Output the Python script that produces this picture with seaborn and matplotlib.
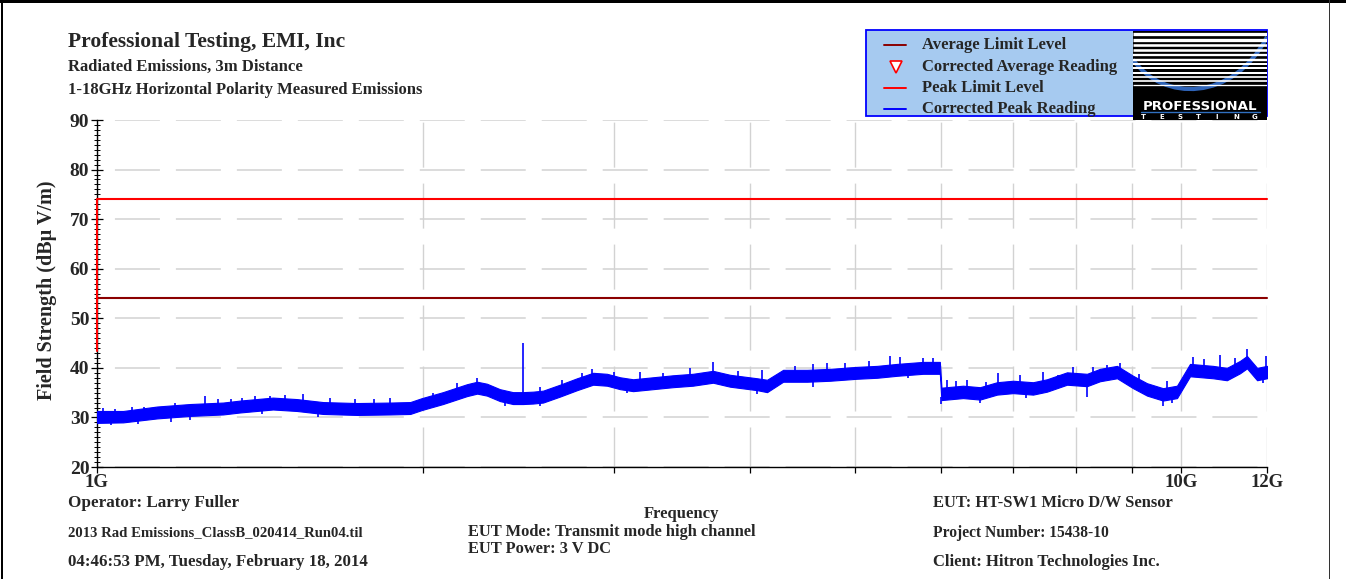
import numpy as np
import pandas as pd
import matplotlib
matplotlib.use("Agg")
import matplotlib.pyplot as plt
from matplotlib.lines import Line2D
from matplotlib.patches import Rectangle, PathPatch
from matplotlib.path import Path
from matplotlib.ticker import FixedLocator, FixedFormatter, MultipleLocator, NullLocator
import seaborn as sns

# ---------------- data ----------------
# Corrected peak reading: lower / upper envelope of the swept trace (GHz, dBuV/m)
peak_freq_ghz = [1.000, 1.057, 1.136, 1.218, 1.307, 1.355, 1.453, 1.529, 1.616, 1.737,
                 1.864, 1.945, 1.994, 2.085, 2.194, 2.242, 2.289, 2.353, 2.419, 2.471,
                 2.525, 2.579, 2.673, 2.772, 2.868, 2.954, 3.037, 3.122, 3.257, 3.398,
                 3.545, 3.700, 3.836, 4.063, 4.150, 4.294, 4.518, 4.745, 5.024, 5.243,
                 5.470, 5.780, 5.990, 6.010, 6.292, 6.523, 6.763, 6.997, 7.301, 7.521,
                 7.847, 8.187, 8.417, 8.727, 9.029, 9.301, 9.622, 9.912, 10.19, 10.70,
                 11.02, 11.33, 11.50, 11.75, 12.00]
peak_lo = [28.9, 29.0, 29.8, 30.3, 30.6, 31.0, 31.6, 31.3, 30.7, 30.5,
           30.6, 30.7, 31.5, 32.7, 34.3, 34.8, 34.4, 33.3, 32.7, 32.7,
           32.8, 33.0, 34.2, 35.5, 36.6, 36.4, 35.7, 35.3, 35.7, 36.1,
           36.4, 37.0, 36.2, 35.5, 35.1, 37.2, 37.2, 37.4, 37.8, 38.0,
           38.4, 38.8, 38.8, 33.5, 33.9, 33.6, 34.6, 34.9, 34.6, 35.2,
           36.6, 36.3, 37.3, 37.9, 35.9, 34.4, 33.4, 33.9, 38.3, 37.9,
           37.5, 38.9, 39.9, 37.5, 37.9]
peak_hi = [31.3, 31.3, 32.2, 32.7, 33.0, 33.4, 34.0, 33.7, 33.1, 32.9,
           33.0, 33.1, 33.9, 35.1, 36.7, 37.2, 36.8, 35.7, 35.1, 35.1,
           35.2, 35.4, 36.6, 37.9, 39.0, 38.8, 38.1, 37.7, 38.1, 38.5,
           38.8, 39.4, 38.6, 37.9, 37.6, 39.6, 39.6, 39.8, 40.2, 40.4,
           40.8, 41.2, 41.2, 36.0, 36.4, 36.1, 37.1, 37.4, 37.1, 37.7,
           39.1, 38.8, 39.8, 40.4, 38.4, 36.9, 35.9, 36.4, 40.8, 40.4,
           40.0, 41.4, 42.4, 40.0, 40.4]

# Isolated peaks standing above the trace
spike_freq_ghz = [1.013, 1.040, 1.077, 1.105, 1.131, 1.180, 1.258, 1.293, 1.330, 1.360,
                  1.400, 1.444, 1.490, 1.549, 1.640, 1.729, 1.800, 1.864, 2.040, 2.150,
                  2.242, 2.471, 2.560, 2.685, 2.800, 2.862, 3.000, 3.169, 3.330, 3.523,
                  3.700, 3.900, 4.106, 4.400, 4.575, 4.714, 4.900, 5.150, 5.390, 5.506,
                  5.780, 5.900, 6.082, 6.200, 6.346, 6.600, 6.777, 7.100, 7.457, 7.700,
                  7.948, 8.292, 8.550, 8.783, 9.150, 9.700, 10.25, 10.50, 10.86, 11.20,
                  11.50, 11.98]
spike_top = [31.9, 31.8, 32.2, 32.1, 32.2, 32.9, 34.3, 33.7, 33.8, 34.0,
             34.3, 34.4, 34.5, 34.7, 33.9, 33.7, 33.8, 33.9, 35.0, 37.0,
             37.9, 45.0, 36.2, 37.6, 39.0, 39.8, 39.2, 39.2, 39.0, 40.0,
             41.2, 39.3, 39.6, 40.4, 40.8, 40.9, 41.0, 41.3, 42.4, 42.2,
             41.9, 42.0, 37.5, 37.4, 37.5, 37.2, 38.9, 38.5, 39.2, 38.6,
             40.2, 40.2, 40.6, 41.0, 38.8, 37.4, 42.2, 41.8, 42.6, 41.9,
             43.8, 42.4]

# Dips reaching below the trace
dip_freq_ghz = [1.030, 1.090, 1.170, 1.218, 1.420, 1.600, 2.380, 2.560, 3.080, 4.063,
                4.575, 5.600, 6.010, 6.523, 7.200, 8.187, 9.620, 9.800, 11.90]
dip_bottom = [28.5, 28.6, 29.0, 29.5, 30.6, 30.0, 32.3, 32.4, 35.0, 34.7,
              36.1, 38.0, 32.7, 33.0, 34.0, 34.1, 32.4, 33.0, 36.9]

# Limit lines
avg_limit_freq = [1.0, 12.0]
avg_limit_level = [54.0, 54.0]
peak_limit_freq = [1.0, 1.0, 12.0]
peak_limit_level = [43.5, 74.0, 74.0]

# Axis ticks
y_ticks = [20, 30, 40, 50, 60, 70, 80, 90]
x_ticks = [1, 2, 3, 4, 5, 6, 7, 8, 9, 10, 12]
x_tick_labels = ["1G", "", "", "", "", "", "", "", "", "10G", "12G"]

legend_labels = ["Average Limit Level", "Corrected Average Reading",
                 "Peak Limit Level", "Corrected Peak Reading"]

# ---------------- style ----------------
sns.set_style("white")
plt.rcParams["font.family"] = ["Liberation Serif", "DejaVu Serif"]
plt.rcParams["font.weight"] = "bold"
plt.rcParams["lines.scale_dashes"] = False

W, H = 1346, 579
fig = plt.figure(figsize=(W / 100, H / 100), dpi=100)
fig.patch.set_facecolor("white")


def fx(x):
    return x / W


def fy(y):
    return 1 - y / H


ax = fig.add_axes([fx(97), fy(467), 1170 / W, 347 / H])
ax.set_facecolor("white")
ax.set_xscale("log")
ax.set_xlim(1, 12)
ax.set_ylim(20, 90)

AVG_COLOR = "#8B0000"
PEAK_COLOR = "#FF0000"
TRACE_COLOR = "#0000FF"

# limit lines
limits = pd.DataFrame({
    "freq": avg_limit_freq + peak_limit_freq,
    "level": avg_limit_level + peak_limit_level,
    "series": ["Average Limit Level"] * len(avg_limit_freq)
              + ["Peak Limit Level"] * len(peak_limit_freq),
})
sns.lineplot(data=limits, x="freq", y="level", hue="series",
             palette={"Average Limit Level": AVG_COLOR, "Peak Limit Level": PEAK_COLOR},
             estimator=None, sort=False, legend=False, linewidth=1.5, ax=ax, zorder=3)
for ln in ax.lines:
    ln.set_clip_on(False)

# peak trace band
ax.fill_between(peak_freq_ghz, peak_lo, peak_hi, color=TRACE_COLOR,
                linewidth=0.8, edgecolor=TRACE_COLOR, zorder=4)
log_f = np.log10(peak_freq_ghz)
spike_base = np.interp(np.log10(spike_freq_ghz), log_f, peak_hi) - 0.6
ax.vlines(spike_freq_ghz, spike_base, spike_top, color=TRACE_COLOR, linewidth=1.2, zorder=4)
dip_base = np.interp(np.log10(dip_freq_ghz), log_f, peak_lo) + 0.6
ax.vlines(dip_freq_ghz, dip_bottom, dip_base, color=TRACE_COLOR, linewidth=1.2, zorder=4)

# axes cosmetics
for side in ("top", "right"):
    ax.spines[side].set_visible(False)
for side in ("left", "bottom"):
    ax.spines[side].set_color("black")
    ax.spines[side].set_linewidth(1.0)

ax.yaxis.set_major_locator(FixedLocator(y_ticks))
ax.yaxis.set_minor_locator(MultipleLocator(1))
ax.xaxis.set_major_locator(FixedLocator(x_ticks))
ax.xaxis.set_major_formatter(FixedFormatter(x_tick_labels))
ax.xaxis.set_minor_locator(NullLocator())

ax.tick_params(axis="y", which="major", direction="inout", length=9, width=0.9,
               color="black", labelsize=14, pad=1, left=True)
ax.tick_params(axis="y", which="minor", direction="inout", length=5, width=0.7,
               color="black", left=True)
ax.tick_params(axis="x", which="major", direction="out", length=4, width=0.9,
               color="black", labelsize=13.5, pad=1, bottom=True)
for lab in ax.get_xticklabels() + ax.get_yticklabels():
    lab.set_fontweight("bold")

ax.set_axisbelow(True)
ax.yaxis.grid(True, color="#D2D2D2", linewidth=1.1, linestyle=(31, (32.4, 11.5)))
ax.xaxis.grid(True, color="#D2D2D2", linewidth=1.0, linestyle=(3.6, (32.4, 11.5)))
ax.set_xlabel("")
ax.set_ylabel("")

fig.text(fx(47), fy(290), "Field Strength (dBµ V/m)", rotation=90,
         ha="center", va="center", fontsize=14.5, fontweight="bold")
fig.text(fx(682), fy(514), "Frequency", ha="center", va="center",
         fontsize=12, fontweight="bold")

# header
fig.text(fx(68), fy(42), "Professional Testing, EMI, Inc", ha="left", va="center",
         fontsize=15.5, fontweight="bold")
fig.text(fx(68), fy(67), "Radiated Emissions, 3m Distance", ha="left", va="center",
         fontsize=12, fontweight="bold")
fig.text(fx(68), fy(90), "1-18GHz Horizontal Polarity Measured Emissions", ha="left",
         va="center", fontsize=12, fontweight="bold")

# footer
footer = [
    (68, 503, "Operator: Larry Fuller", 12.3),
    (68, 533, "2013 Rad Emissions_ClassB_020414_Run04.til", 10.6),
    (68, 562, "04:46:53 PM, Tuesday, February 18, 2014", 12.2),
    (468, 532, "EUT Mode: Transmit mode high channel", 11.8),
    (468, 549, "EUT Power: 3 V DC", 11.8),
    (933, 503, "EUT: HT-SW1 Micro D/W Sensor", 11.9),
    (933, 533, "Project Number: 15438-10", 11.2),
    (933, 562, "Client: Hitron Technologies Inc.", 12),
]
for x, y, s, size in footer:
    fig.text(fx(x), fy(y), s, ha="left", va="center", fontsize=size, fontweight="bold")

# legend box
fig.add_artist(Rectangle((fx(866), fy(116)), (1267 - 866) / W, 86 / H,
                         transform=fig.transFigure, facecolor="#A6CAF0",
                         edgecolor="#0000FF", linewidth=1.3, zorder=1))
row_y = [45, 67, 88, 109]
handles = [("line", AVG_COLOR), ("tri", PEAK_COLOR), ("line", PEAK_COLOR), ("line", TRACE_COLOR)]
for yy, label, (kind, col) in zip(row_y, legend_labels, handles):
    if kind == "line":
        fig.add_artist(Line2D([fx(884), fx(906)], [fy(yy), fy(yy)], color=col,
                              linewidth=1.4, transform=fig.transFigure, zorder=2))
    else:
        fig.add_artist(Line2D([fx(896)], [fy(yy)], marker="v", markersize=8,
                              markerfacecolor="white", markeredgecolor=col,
                              markeredgewidth=1.2, linestyle="none",
                              transform=fig.transFigure, zorder=2))
    fig.text(fx(922), fy(yy), label, ha="left", va="center", fontsize=12,
             fontweight="bold", zorder=3)

# company logo
lax = fig.add_axes([fx(1133), fy(120), 134 / W, 89 / H])
lax.set_zorder(4)
lax.set_xlim(0, 134)
lax.set_ylim(89, 0)
lax.axis("off")
lax.add_patch(Rectangle((0, 0), 134, 89, facecolor="black", edgecolor="none"))
stripe_y = [2.7, 8.7, 14.0, 19.0, 23.8, 28.5, 33.0, 37.3, 41.7, 45.8, 49.8, 53.7]
stripe_w = [3.3, 3.3, 2.6, 2.6, 2.3, 2.4, 2.0, 2.0, 2.0, 1.7, 1.7, 1.3]
lax.hlines(stripe_y, 0, 134, colors="white", linewidths=[w * 0.72 for w in stripe_w])
arc = Path([(0, 28.7), (30, 71), (100, 71), (134, 6)],
           [Path.MOVETO, Path.CURVE4, Path.CURVE4, Path.CURVE4])
lax.add_patch(PathPatch(arc, facecolor="none", edgecolor="#2F64B8", linewidth=3.0))
lax.text(67.5, 75, "PROFESSIONAL", color="white", fontsize=9.6, fontweight="heavy",
         family="DejaVu Sans", ha="center", va="center")
lax.plot([8.3, 126.7], [81, 81], color="#3070C0", linewidth=1.0)
for xx, ch in zip([10.3, 28.7, 47, 65.3, 83.7, 103, 122], "TESTING"):
    lax.text(xx, 86, ch, color="white", fontsize=5, fontweight="bold",
             family="DejaVu Sans", ha="center", va="center")

# page frame
fig.add_artist(Rectangle((0, fy(3)), 1, 3 / H, transform=fig.transFigure,
                         facecolor="black", edgecolor="none", zorder=5))
fig.add_artist(Rectangle((fx(1), 0), 1.6 / W, 1, transform=fig.transFigure,
                         facecolor="black", edgecolor="none", zorder=5))
fig.add_artist(Rectangle((fx(1328.5), 0), 1.6 / W, 1, transform=fig.transFigure,
                         facecolor="#333333", edgecolor="none", zorder=5))

fig.savefig("out.png", dpi=100, facecolor="white")
